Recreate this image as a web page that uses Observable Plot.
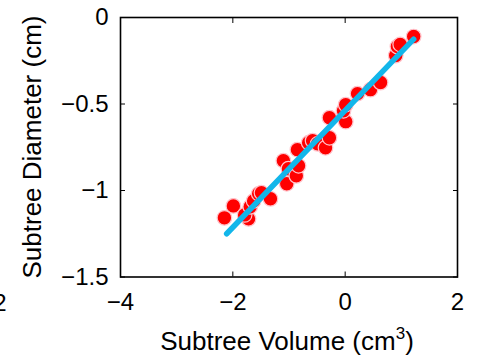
<!DOCTYPE html>
<html>
<head>
<meta charset="utf-8">
<script src="https://cdn.jsdelivr.net/npm/d3@7"></script>
<script src="https://cdn.jsdelivr.net/npm/@observablehq/plot@0.6"></script>
<style>
  html, body { margin: 0; padding: 0; background: #fff; }
  svg { display: block; }
</style>
</head>
<body>
<div id="chart"></div>
<script>
// Scatter data: subtree volume (log-scaled) vs subtree diameter (log-scaled)
const volume = [-2.15, -1.99, -1.72, -1.79, -1.69, -1.63, -1.54, -1.49, -1.33,
  -1.10, -1.04, -1.01, -0.87, -0.83, -0.85, -0.65, -0.58, -0.49, -0.35, -0.28,
  -0.28, 0.01, -0.03, 0.01, 0.22, 0.45, 0.63, 0.90, 0.93, 0.98, 1.22];
const diameter = [-1.158, -1.089, -1.164, -1.141, -1.094, -1.060, -1.019, -1.013, -1.048,
  -0.828, -0.961, -0.874, -0.915, -0.857, -0.764, -0.724, -0.712, -0.730, -0.753, -0.695,
  -0.579, -0.602, -0.539, -0.504, -0.440, -0.417, -0.376, -0.220, -0.168, -0.156, -0.110];

// Fitted line endpoints
const fitX = [-2.11, 1.22];
const fitY = [-1.25, -0.125];

const xTicks = [-4, -2, 0, 2];
const yTicks = [-1.5, -1, -0.5, 0];
const xLabel = "Subtree Volume (cm";
const xLabelSup = "3";
const yLabel = "Subtree Diameter (cm)";
const strayLabel = "2";

const points = volume.map((v, i) => ({x: v, y: diameter[i]}));
const fit = fitX.map((v, i) => ({x: v, y: fitY[i]}));

const W = 487, H = 361;
const font = "'Liberation Sans', Arial, Helvetica, sans-serif";
const fmt = d3.format("~g");

const plot = Plot.plot({
  width: W,
  height: H,
  marginLeft: 120,
  marginRight: 30,
  marginTop: 17,
  marginBottom: 84.5,
  style: {fontFamily: font, fontSize: "24px", color: "#000", background: "#fff"},
  x: {domain: [-4, 2]},
  y: {domain: [-1.5, 0]},
  marks: [
    Plot.dot(points, {x: "x", y: "y", r: 7.3, fill: "#ff0000", stroke: "#ffc4cc", strokeWidth: 1.2}),
    Plot.line(fit, {x: "x", y: "y", stroke: "#12b6ea", strokeWidth: 5.5}),
    // inward ticks on all four sides
    Plot.axisX({ticks: xTicks, anchor: "bottom", tickSize: -5, text: null, label: null, strokeWidth: 1}),
    Plot.axisX({ticks: xTicks, anchor: "top", tickSize: -5, text: null, label: null, strokeWidth: 1}),
    Plot.axisY({ticks: yTicks, anchor: "left", tickSize: -5, text: null, label: null, strokeWidth: 1}),
    Plot.axisY({ticks: yTicks, anchor: "right", tickSize: -5, text: null, label: null, strokeWidth: 1}),
    // tick labels
    Plot.axisX({ticks: xTicks, anchor: "bottom", tickSize: 0, tickPadding: 16, label: null, fontSize: 24, tickFormat: fmt}),
    Plot.axisY({ticks: yTicks, anchor: "left", tickSize: 0, tickPadding: 12, label: null, fontSize: 24, tickFormat: fmt}),
    Plot.frame({stroke: "#000", strokeWidth: 1.6})
  ]
});

const svg = d3.select(plot);
// x axis label with superscript
const xl = svg.append("text")
  .attr("x", 287)
  .attr("y", 350)
  .attr("text-anchor", "middle")
  .attr("font-family", font)
  .attr("font-size", 26)
  .attr("fill", "#000");
xl.append("tspan").text(xLabel);
xl.append("tspan").attr("font-size", 17).attr("dy", -11).text(xLabelSup);
xl.append("tspan").attr("dy", 11).text(")");

// y axis label
svg.append("text")
  .attr("transform", "translate(41,147) rotate(-90)")
  .attr("text-anchor", "middle")
  .attr("font-family", font)
  .attr("font-size", 26)
  .attr("fill", "#000")
  .text(yLabel);

// clipped tick label from a neighbouring panel (cut off at the left edge, as in the reference)
svg.append("text")
  .attr("x", 6.5)
  .attr("y", 310.5)
  .attr("text-anchor", "end")
  .attr("font-family", font)
  .attr("font-size", 24)
  .attr("fill", "#000")
  .text(strayLabel);

document.getElementById("chart").appendChild(plot);
</script>
</body>
</html>
